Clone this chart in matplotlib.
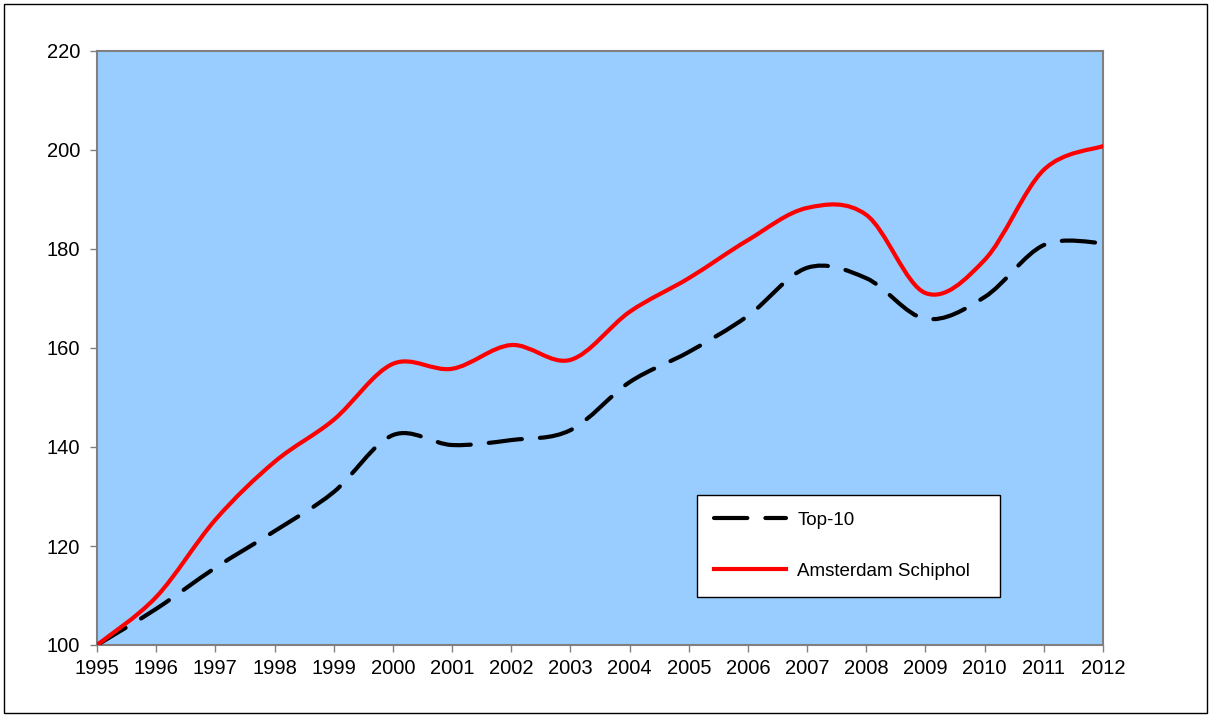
import matplotlib
matplotlib.use('Agg')
import matplotlib.pyplot as plt
import numpy as np
from matplotlib.path import Path
from matplotlib.patches import PathPatch, Rectangle
from matplotlib.lines import Line2D

plt.rcParams['font.family'] = ['Liberation Sans', 'DejaVu Sans']
plt.rcParams['lines.scale_dashes'] = False

years = list(range(1995, 2013))
top10 = [100.0, 107.3, 115.6, 123.0, 130.9, 142.4, 140.4, 141.4, 143.4, 153.1,
         159.2, 166.5, 176.2, 174.1, 165.9, 170.3, 180.8, 181.2]
schiphol = [100.0, 109.7, 125.3, 137.0, 145.5, 156.8, 155.8, 160.6, 157.6, 167.3,
            174.1, 181.8, 188.3, 186.9, 171.1, 177.8, 196.0, 200.8]

DASH = (0, (24, 13))


def smooth_path(xs, ys):
    # Excel-style smoothed line: cubic Bezier segments, Catmull-Rom control points
    p = np.column_stack([xs, ys]).astype(float)
    n = len(p)
    verts = [p[0]]
    codes = [Path.MOVETO]
    for i in range(n - 1):
        p0 = p[i - 1] if i > 0 else p[i]
        p3 = p[i + 2] if i + 2 < n else p[i + 1]
        c1 = p[i] + (p[i + 1] - p0) / 6.0
        c2 = p[i + 1] - (p3 - p[i]) / 6.0
        verts += [c1, c2, p[i + 1]]
        codes += [Path.CURVE4] * 3
    return Path(verts, codes)


fig = plt.figure(figsize=(12.11, 7.17), dpi=100)
ax = fig.add_axes([97 / 1211, 1 - 645 / 717, (1103 - 97) / 1211, (645 - 51) / 717])
ax.set_facecolor('#99ccff')

top_patch = PathPatch(smooth_path(years, top10), fill=False, edgecolor='black',
                      linewidth=3.0, linestyle=DASH, capstyle='round', zorder=3)
red_patch = PathPatch(smooth_path(years, schiphol), fill=False, edgecolor='#ff0000',
                      linewidth=3.0, capstyle='round', joinstyle='round', zorder=4)
ax.add_patch(top_patch)
ax.add_patch(red_patch)

ax.set_xlim(1995, 2012)
ax.set_ylim(100, 220)
ax.set_xticks(years)
ax.set_yticks(range(100, 221, 20))
ax.tick_params(axis='both', direction='out', length=5, width=1, color='#808080',
               labelsize=14.5, labelcolor='black')
ax.tick_params(axis='y', pad=7)
ax.tick_params(axis='x', pad=5)
for s in ax.spines.values():
    s.set_color('#808080')
    s.set_linewidth(1.5)

handles = [
    Line2D([], [], color='black', lw=3.0, linestyle=DASH, dash_capstyle='round'),
    Line2D([], [], color='#ff0000', lw=3.0),
]
leg = ax.legend(handles, ['Top-10', 'Amsterdam Schiphol'], loc='upper left',
                bbox_to_anchor=((697 - 97) / 1006, (645 - 495) / 594, (1000 - 697) / 1006, 0.0),
                mode='expand', fontsize=13.5, frameon=True, fancybox=False,
                edgecolor='black', facecolor='white', framealpha=1,
                handlelength=3.85, handletextpad=0.6, labelspacing=1.8,
                borderpad=0.9, borderaxespad=0)
leg.get_frame().set_linewidth(1.0)

fig.add_artist(Rectangle((4 / 1211, 1 - 713 / 717), 1203 / 1211, 709 / 717,
                         transform=fig.transFigure, fill=False, edgecolor='black',
                         linewidth=1.0))

fig.savefig('out.png', dpi=100)
